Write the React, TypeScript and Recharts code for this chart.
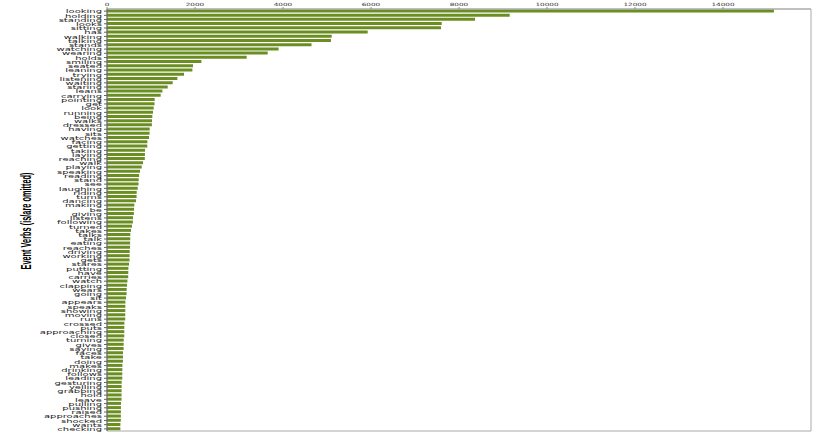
import { BarChart, Bar, XAxis, YAxis, ReferenceArea } from 'recharts';

// verbs, sorted by frequency (top to bottom)
const verbs = [
  'looking', 'holding', 'standing', 'looks', 'sitting', 'has', 'walking', 'talking', 'stands', 'watching',
  'wearing', 'holds', 'smiling', 'seated', 'leaning', 'trying', 'listening', 'waiting', 'staring', 'leans',
  'carrying', 'pointing', 'get', 'look', 'running', 'being', 'walks', 'dressed', 'having', 'sits',
  'watches', 'facing', 'getting', 'taking', 'laying', 'reaching', 'walk', 'playing', 'speaking', 'reading',
  'stand', 'see', 'laughing', 'riding', 'turns', 'dancing', 'making', 'be', 'giving', 'listens',
  'following', 'turned', 'takes', 'talks', 'talk', 'eating', 'reaches', 'driving', 'working', 'gets',
  'stares', 'putting', 'have', 'carries', 'watch', 'clapping', 'wears', 'going', 'sit', 'appears',
  'speaks', 'showing', 'moving', 'runs', 'crossed', 'puts', 'approaching', 'closed', 'turning', 'gives',
  'saying', 'faces', 'take', 'doing', 'makes', 'drinking', 'follows', 'leading', 'gesturing', 'yelling',
  'grabbing', 'hold', 'leave', 'pulling', 'pushing', 'raised', 'approaches', 'shocked', 'wants', 'checking',
];

const counts = [
  15157, 9152, 8364, 7607, 7591, 5925, 5107, 5090, 4648, 3900,
  3652, 3175, 2145, 1955, 1941, 1750, 1600, 1493, 1380, 1259,
  1220, 1084, 1080, 1061, 1045, 1030, 1023, 1020, 970, 968,
  955, 918, 915, 864, 862, 860, 818, 789, 750, 730,
  720, 716, 698, 675, 672, 660, 620, 615, 610, 591,
  588, 568, 545, 530, 528, 526, 524, 516, 514, 512,
  500, 486, 484, 482, 464, 455, 447, 445, 432, 418,
  417, 416, 415, 414, 395, 394, 393, 392, 380, 379,
  378, 364, 363, 362, 350, 349, 348, 347, 334, 333,
  332, 331, 330, 318, 317, 316, 315, 314, 305, 304,
];

const xTicks = [0, 2000, 4000, 6000, 8000, 10000, 12000, 14000];

const data = verbs.map((verb, i) => ({ verb, count: counts[i] }));

const VerbTick = (props: any) => {
  const { x, y, payload } = props;
  return (
    <text
      transform={`translate(${x},${y}) scale(1,0.6)`}
      textAnchor="end"
      dominantBaseline="central"
      fontSize={10}
      fontFamily="DejaVu Sans"
      fill="#1a1a1a"
    >
      {payload.value}
    </text>
  );
};

const CountTick = (props: any) => {
  const { x, y, payload } = props;
  return (
    <text
      transform={`translate(${x},${y}) scale(1,0.6)`}
      textAnchor="middle"
      fontSize={7.3}
      fontFamily="DejaVu Sans"
      fill="#333"
    >
      {payload.value}
    </text>
  );
};

export default function App() {
  return (
    <div style={{ position: 'absolute', left: 0, top: 0, width: 830, height: 436, background: '#fff' }}>
      <BarChart
        width={830}
        height={436}
        data={data}
        layout="vertical"
        margin={{ top: 0, right: 19, bottom: 5, left: 0 }}
        barCategoryGap="10%"
      >
        <XAxis
          type="number"
          orientation="top"
          domain={[0, 16000]}
          ticks={xTicks}
          height={9}
          tickSize={2}
          tickMargin={1}
          tick={<CountTick />}
          axisLine={{ stroke: '#aaa' }}
          tickLine={{ stroke: '#888' }}
        />
        <YAxis
          type="category"
          dataKey="verb"
          width={107}
          interval={0}
          tickSize={3}
          tickMargin={2}
          tick={<VerbTick />}
          axisLine={{ stroke: '#666' }}
          tickLine={{ stroke: '#666' }}
        />
        <ReferenceArea x1={0} x2={16000} fill="none" stroke="#aaa" ifOverflow="visible" />
        <Bar dataKey="count" fill="#6b8e23" isAnimationActive={false} />
        <text
          transform="translate(31,221) rotate(-90)"
          textAnchor="middle"
          fontSize={14}
          fontWeight="bold"
          fontFamily="Liberation Sans"
          fill="#000"
          textLength={97}
          lengthAdjust="spacingAndGlyphs"
        >
          Event Verbs (is/are omitted)
        </text>
      </BarChart>
    </div>
  );
}
